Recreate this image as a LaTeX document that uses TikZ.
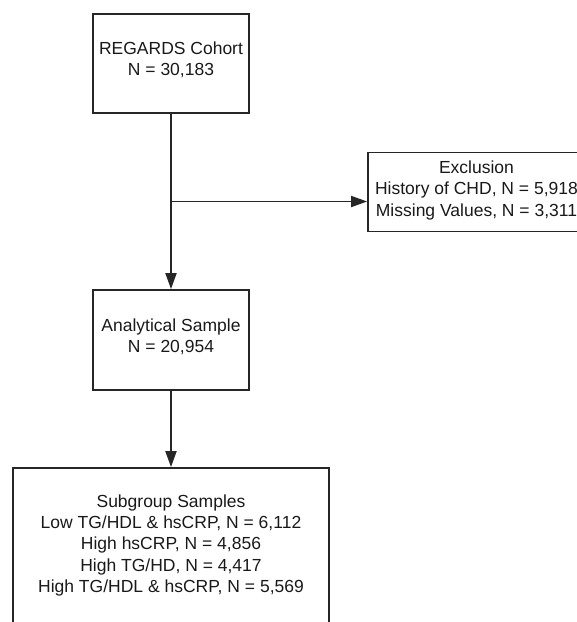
\documentclass[tikz,border=0pt]{standalone}
\usepackage{fontspec}
\setmainfont{Liberation Sans}
\usetikzlibrary{arrows.meta}
\begin{document}
\begin{tikzpicture}[x=1pt,y=-1pt,
  box/.style={draw=black!85, line width=1.8pt, align=center, inner sep=0pt,
    text=black!90, text depth=9pt, font=\fontsize{17.5}{21.3}\selectfont},
  conn/.style={draw=black!85, line width=1.8pt, -{Triangle[length=16pt,width=11pt]}}]
\useasboundingbox (0,0) rectangle (577,622);
\clip (0,0) rectangle (577,622);
\node[box, minimum width=156pt, minimum height=99pt] (cohort) at (171,63.5) {REGARDS Cohort\\N = 30,183};
\node[box, minimum width=156pt, minimum height=100pt] (anal) at (171,340) {Analytical Sample\\N = 20,954};
\node[box, minimum width=217pt, minimum height=79pt, text depth=7pt] (excl) at (476.5,192) {Exclusion\\History of CHD, N = 5,918\\Missing Values, N = 3,311};
\node[box, minimum width=316pt, minimum height=156pt, text depth=5pt] (sub) at (171,546) {Subgroup Samples\\Low TG/HDL \& hsCRP, N = 6,112\\High hsCRP, N = 4,856\\High TG/HD, N = 4,417\\High TG/HDL \& hsCRP, N = 5,569};
\coordinate (branch) at (171,201.5);
\draw[conn] (cohort.south) -- (anal.north);
\draw[conn] (branch) -- (branch -| excl.west);
\draw[conn] (anal.south) -- (anal.south |- sub.north);
\end{tikzpicture}
\end{document}
